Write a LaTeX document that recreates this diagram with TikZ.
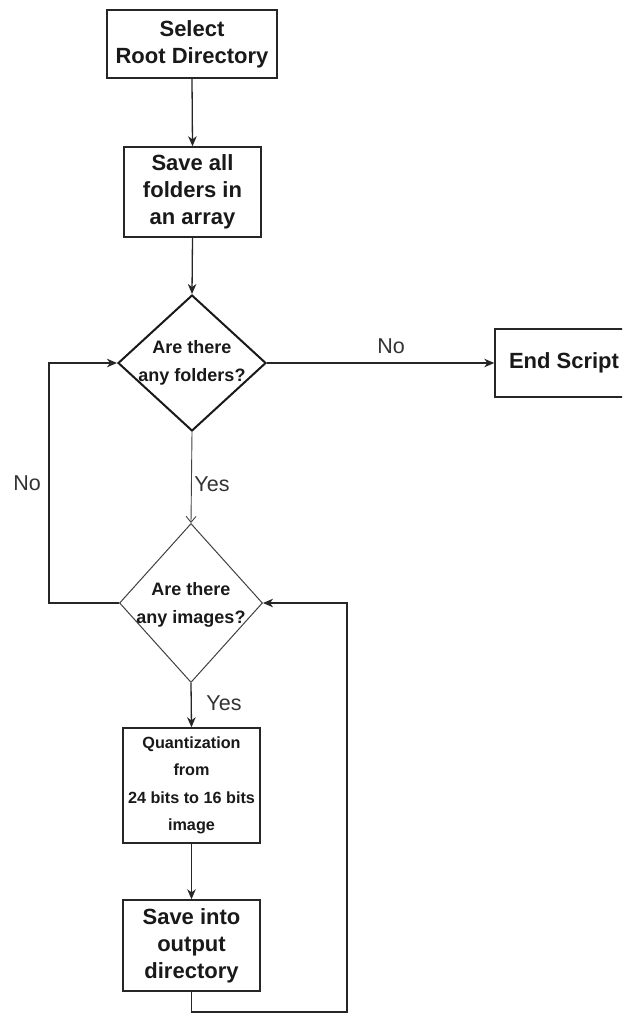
\documentclass[tikz,border=0pt]{standalone}
\usepackage{fontspec}
\setmainfont{Liberation Sans}
\usetikzlibrary{arrows.meta,shapes.geometric}

\begin{document}
\begin{tikzpicture}[x=1pt,y=-1pt,
  box/.style={draw=black!85, line width=1.4pt, rectangle, inner sep=0pt,
    align=center, text=black!90, font=\bfseries\fontsize{22}{27}\selectfont},
  smallbox/.style={box, font=\bfseries\fontsize{16.2}{27.4}\selectfont},
  decision/.style={diamond, draw=black!90, inner sep=0pt},
  dtext/.style={font=\bfseries\fontsize{18}{27.5}\selectfont, align=center, text=black!90},
  flow/.style={draw=black!85, line width=1.3pt, -{Stealth[length=10pt,width=8.5pt,inset=3pt]}},
  thinflow/.style={draw=black!75, line width=0.9pt, -{Straight Barb[length=6pt,width=10pt]}},
  tag/.style={font=\fontsize{21.5}{24}\selectfont, text=black!80}
]
\useasboundingbox (0,0) rectangle (622,1014);
\clip (0,0) rectangle (622,1014);

% process boxes
\node[box, minimum width=170pt, minimum height=68pt] (select) at (192,44) {Select\\Root Directory};
\node[box, minimum width=137pt, minimum height=90pt] (arr) at (192.5,192) {Save all\\folders in\\an array};
\node[box, minimum width=138pt, minimum height=68pt] (endscr) at (564,363) {End Script};
\node[smallbox, minimum width=137pt, minimum height=115pt] (quant) at (191.5,785.5) {Quantization\\from\\24 bits to 16 bits\\image};
\node[box, minimum width=137pt, minimum height=91pt] (save) at (191.5,945.5) {Save into\\output\\directory};

% decisions
\node[decision, line width=2pt, minimum width=148pt, minimum height=136pt,
  label={[dtext]center:{Are there\\any folders?}}] (q1) at (192,363) {};
\node[decision, draw=black!75, line width=1pt, minimum width=143pt, minimum height=159pt,
  label={[dtext, yshift=-2pt]center:{Are there\\any images?}}] (q2) at (191,603) {};

% loop corners
\coordinate (loopL) at (49,483);
\coordinate (loopR) at (347,1012);

% connectors
\draw[flow] (select.south) -- (arr.north);
\draw[flow] (arr.south) -- (q1.north);
\draw[flow] (q1.east) -- (endscr.west);
\draw[thinflow] (q1.south) -- (q2.north);
\draw[flow] (q2.west) -| (loopL) |- (q1.west);
\draw[flow] (q2.south) -- (quant.north);
\draw[flow] (quant.south) -- (save.north);
\draw[flow] (save.south) |- (loopR) |- (q2.east);

% connector labels
\node[tag] (lno1) at (391,346) {No};
\node[tag] (lno2) at (27,483) {No};
\node[tag] (lyes1) at (212,484) {Yes};
\node[tag] (lyes2) at (224,703) {Yes};
\end{tikzpicture}
\end{document}
